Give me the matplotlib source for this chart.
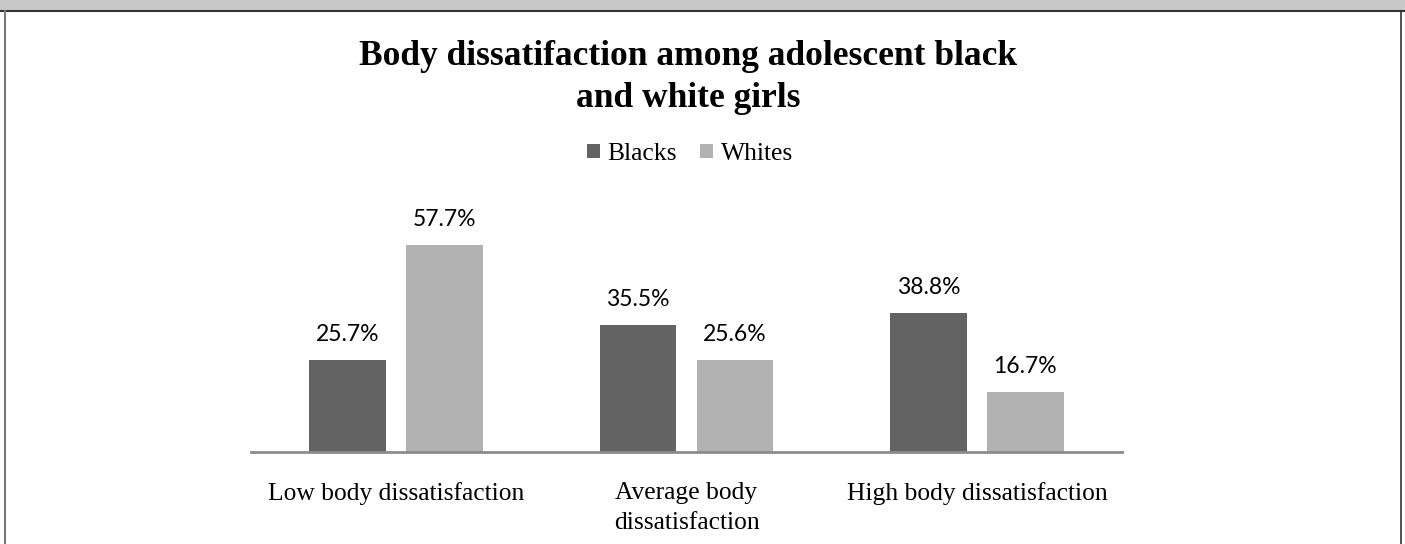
import numpy as np
import matplotlib.pyplot as plt
from matplotlib.patches import Patch, Rectangle
from matplotlib.lines import Line2D

# Datos del grafico
categorias = ["Low body dissatisfaction", "Average body\ndissatisfaction", "High body dissatisfaction"]
grupos = ["Blacks", "Whites"]
blacks = [25.7, 35.5, 38.8]
whites = [57.7, 25.6, 16.7]
colores = ["#636363", "#b2b2b2"]

serif = ["Liberation Serif", "DejaVu Serif"]
sans = ["Lato", "DejaVu Sans"]

fig = plt.figure(figsize=(14.05, 5.44), dpi=100)

# Marco: banda gris superior y bordes
fig.patches.append(Rectangle((0, 1 - 10 / 544), 1, 10 / 544, transform=fig.transFigure,
                             facecolor="#c8c8c8", edgecolor="none", zorder=0))
fig.add_artist(Line2D([0, 1], [1 - 10.5 / 544] * 2, color="#333333", lw=1.5, transform=fig.transFigure))
fig.add_artist(Line2D([4.5 / 1405] * 2, [0, 1 - 10.5 / 544], color="#777777", lw=1.5, transform=fig.transFigure))
fig.add_artist(Line2D([1400.5 / 1405] * 2, [0, 1 - 10.5 / 544], color="#333333", lw=1.2, transform=fig.transFigure))

ax = fig.add_axes([251 / 1405, 92 / 544, 871 / 1405, 215 / 544])

x = np.arange(len(categorias))
ancho = 0.265
desp = 0.167
barras_b = ax.bar(x - desp, blacks, ancho, color=colores[0], label=grupos[0])
barras_w = ax.bar(x + desp, whites, ancho, color=colores[1], label=grupos[1])

for barras, valores in [(barras_b, blacks), (barras_w, whites)]:
    for b, v in zip(barras, valores):
        ax.annotate(f"{v:.1f}%", (b.get_x() + b.get_width() / 2, v), xytext=(0, 11),
                    textcoords="offset points", ha="center", va="bottom",
                    fontsize=16.5, family=sans, color="#000000", annotation_clip=False)

ax.set_xlim(-0.5, 2.5)
ax.set_ylim(0, 60)
ax.set_yticks([])
ax.set_xticks(x)
ax.set_xticklabels(categorias, fontsize=18.4, family=serif, linespacing=1.49)
ax.tick_params(axis="x", length=0, pad=21.5)
for s in ["top", "left", "right"]:
    ax.spines[s].set_visible(False)
ax.spines["bottom"].set_color("#8c8c8c")
ax.spines["bottom"].set_linewidth(2)

fig.text(688 / 1405, 1 - 40 / 544, "Body dissatifaction among adolescent black\nand white girls",
         ha="center", va="top", fontsize=25.5, fontweight="bold", family=serif, linespacing=1.37)

handles = [Patch(facecolor=c, edgecolor="none") for c in colores]
fig.legend(handles, grupos, loc="center", bbox_to_anchor=(690 / 1405, 1 - 154 / 544),
           ncol=2, frameon=False, prop={"family": serif, "size": 18.4},
           handlelength=0.5, handleheight=0.5, handletextpad=0.3, columnspacing=0.9)

fig.savefig("out.png", dpi=100)
